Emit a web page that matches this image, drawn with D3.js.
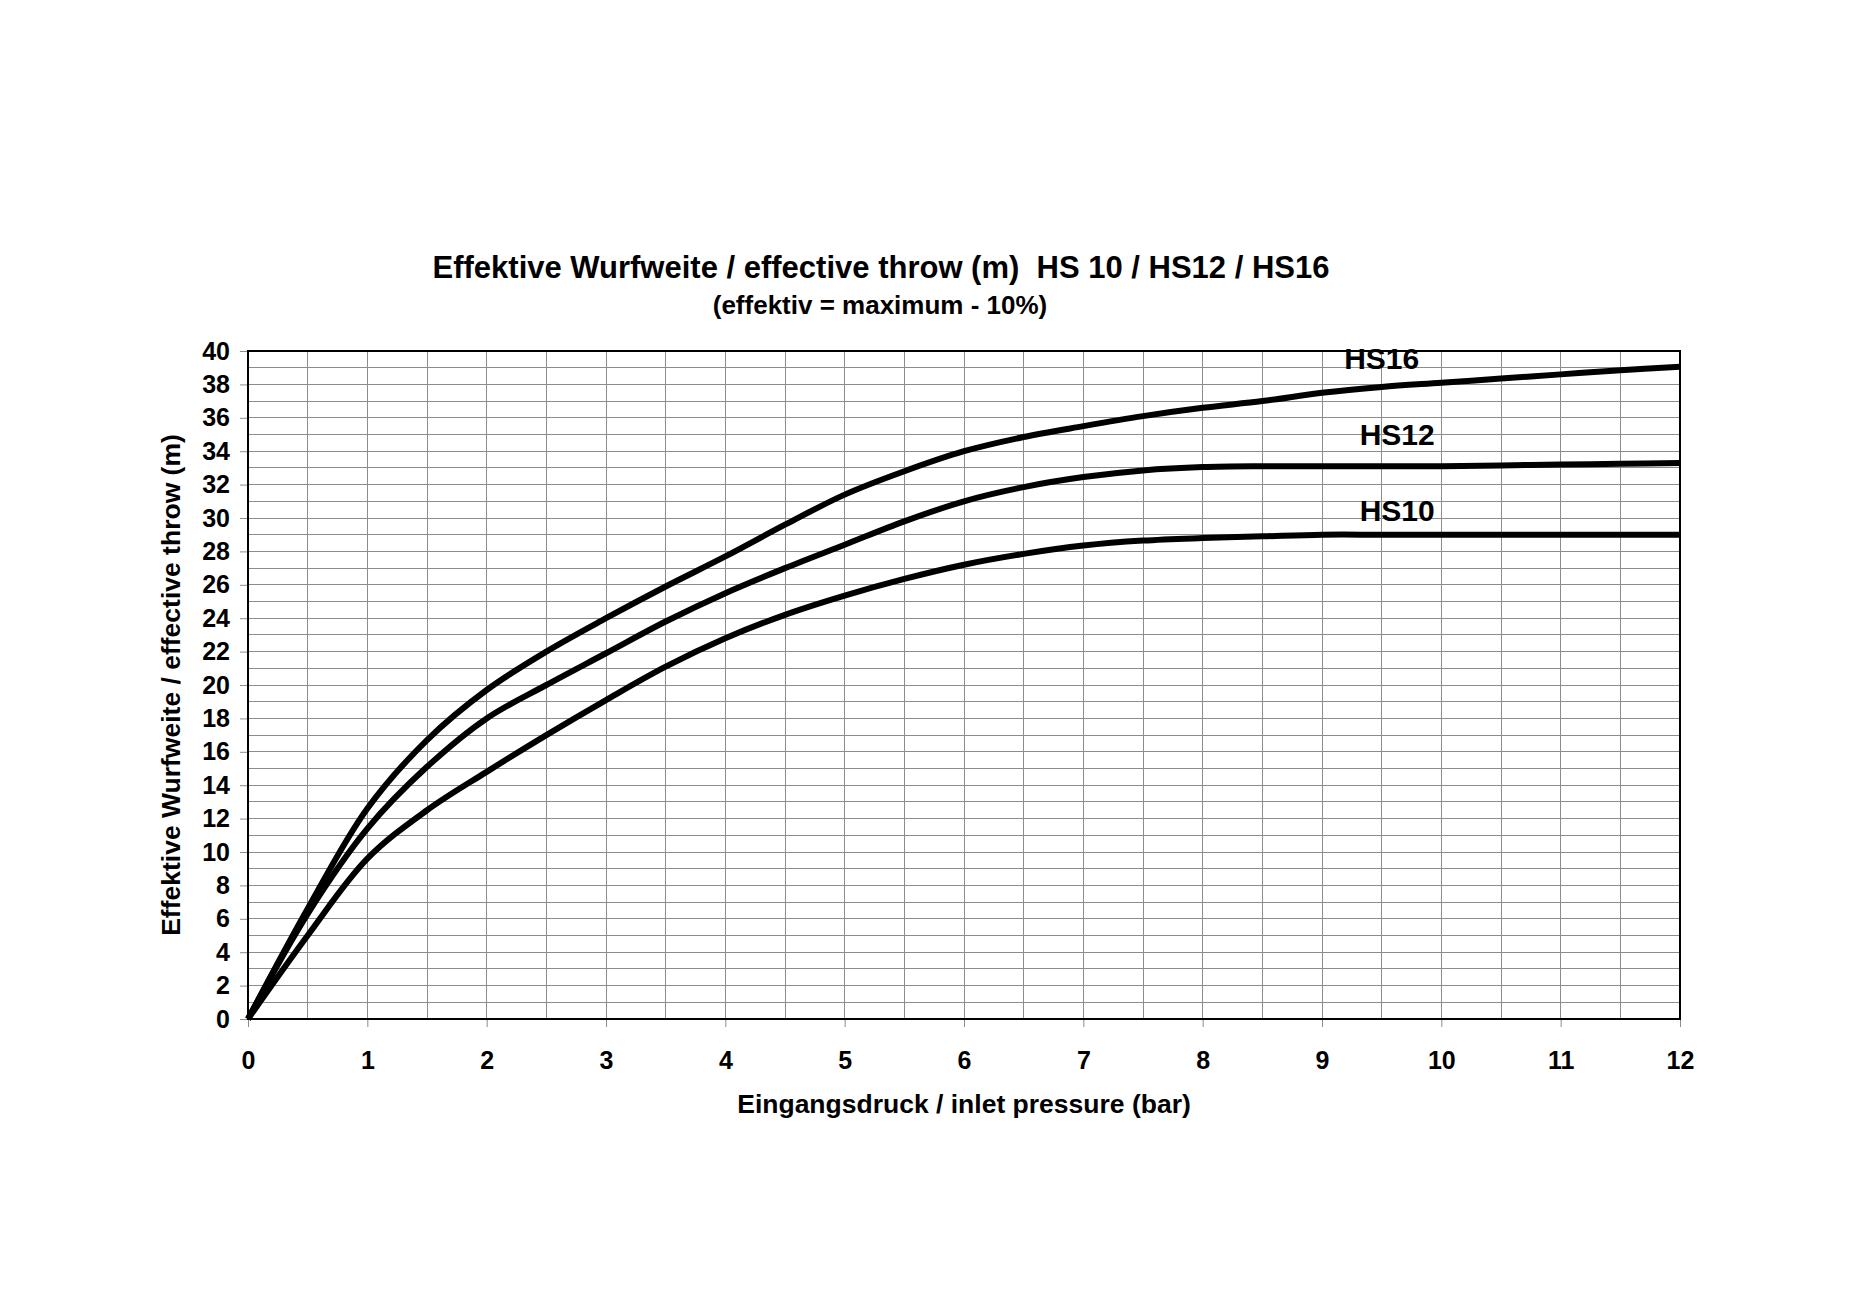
<!DOCTYPE html>
<html>
<head>
<meta charset="utf-8">
<script src="https://cdn.jsdelivr.net/npm/d3@7"></script>
<style>
  body { margin: 0; background: #fff; }
  text { font-family: "Liberation Sans", Arial, sans-serif; font-weight: bold; fill: #000; }
</style>
</head>
<body>
<svg id="chart"></svg>
<script>
let width = 1853;
let height = 1309;

// inlet pressure (bar)
let pressure = [0, 0.5, 1, 1.5, 2, 2.5, 3, 3.5, 4, 4.5, 5, 5.5, 6, 6.5, 7, 7.5, 8, 8.5, 9, 9.5, 10, 10.5, 11, 11.5, 12];

// effective throw (m)
let hs16 = [0, 6.6, 12.6, 16.7, 19.7, 22.0, 24.0, 25.9, 27.7, 29.6, 31.4, 32.8, 34.0, 34.85, 35.5, 36.1, 36.6, 37.0, 37.5, 37.85, 38.1, 38.35, 38.6, 38.85, 39.05];
let hs12 = [0, 6.3, 11.4, 15.1, 18.0, 20.0, 21.9, 23.8, 25.5, 27.0, 28.4, 29.8, 31.0, 31.85, 32.45, 32.85, 33.05, 33.1, 33.1, 33.1, 33.1, 33.15, 33.2, 33.25, 33.3];
let hs10 = [0, 5.0, 9.6, 12.5, 14.8, 17.0, 19.1, 21.1, 22.8, 24.2, 25.35, 26.35, 27.2, 27.85, 28.35, 28.65, 28.8, 28.9, 29.0, 29.0, 29.0, 29.0, 29.0, 29.0, 29.0];

let seriesNames = ['HS16', 'HS12', 'HS10'];
let labelPos = [[9.5, 38.9], [9.63, 34.4], [9.63, 29.8]];

let xTicks = d3.range(0, 13, 1);
let yTicks = d3.range(0, 41, 2);

let margin = { left: 248, right: 1853 - 1680, top: 351, bottom: 1309 - 1019 };

let xScale = d3.scaleLinear()
                .domain([0, 12])
                .range([margin.left, width - margin.right]);

let yScale = d3.scaleLinear()
                .domain([0, 40])
                .range([height - margin.bottom, margin.top]);

let svg = d3.select('#chart')
            .attr('width', width)
            .attr('height', height);

// grid
let grid = svg.append('g').attr('shape-rendering', 'crispEdges');
grid.selectAll('.vgrid')
    .data(d3.range(0.5, 12, 0.5))
    .enter()
    .append('line')
        .attr('x1', d => xScale(d))
        .attr('x2', d => xScale(d))
        .attr('y1', yScale(0))
        .attr('y2', yScale(40))
        .attr('stroke', '#8c8c8c')
        .attr('stroke-width', 1);
grid.selectAll('.hgrid')
    .data(d3.range(1, 40, 1))
    .enter()
    .append('line')
        .attr('x1', xScale(0))
        .attr('x2', xScale(12))
        .attr('y1', d => yScale(d))
        .attr('y2', d => yScale(d))
        .attr('stroke', '#8c8c8c')
        .attr('stroke-width', 1);

// axes
let xAxis = svg.append('g')
    .attr('transform', `translate(0,${yScale(0)})`)
    .call(d3.axisBottom(xScale).tickValues(xTicks).tickSize(8).tickPadding(24));

let yAxis = svg.append('g')
    .attr('transform', `translate(${xScale(0)},0)`)
    .call(d3.axisLeft(yScale).tickValues(yTicks).tickSize(8).tickPadding(10));

[xAxis, yAxis].forEach(a => {
    a.select('.domain').remove();
    a.selectAll('line').attr('stroke', '#8c8c8c');
    a.selectAll('text')
        .style('font-family', '"Liberation Sans", Arial, sans-serif')
        .style('font-weight', 'bold')
        .style('font-size', '25px')
        .attr('fill', '#000');
});

// plot frame
svg.append('rect')
    .attr('x', xScale(0))
    .attr('y', yScale(40))
    .attr('width', xScale(12) - xScale(0))
    .attr('height', yScale(0) - yScale(40))
    .attr('fill', 'none')
    .attr('stroke', '#000')
    .attr('stroke-width', 2);

// curves
let line = d3.line()
    .x((d, i) => xScale(pressure[i]))
    .y(d => yScale(d))
    .curve(d3.curveCatmullRom.alpha(0.5));

svg.selectAll('.curve')
    .data([hs16, hs12, hs10])
    .enter()
    .append('path')
        .attr('d', line)
        .attr('fill', 'none')
        .attr('stroke', '#000')
        .attr('stroke-width', 6)
        .attr('stroke-linejoin', 'round');

svg.selectAll('.lab')
    .data(seriesNames)
    .enter()
    .append('text')
        .text(d => d)
        .attr('x', (d, i) => xScale(labelPos[i][0]))
        .attr('y', (d, i) => yScale(labelPos[i][1]))
        .attr('text-anchor', 'middle')
        .style('font-size', '30px');

// titles
svg.append('text')
    .text('Effektive Wurfweite / effective throw (m)  HS 10 / HS12 / HS16')
    .attr('x', 881)
    .attr('y', 278)
    .attr('text-anchor', 'middle')
    .attr('xml:space', 'preserve')
    .style('white-space', 'pre')
    .style('font-size', '31px');

svg.append('text')
    .text('(effektiv = maximum - 10%)')
    .attr('x', 880)
    .attr('y', 314)
    .attr('text-anchor', 'middle')
    .style('font-size', '26px');

svg.append('text')
    .text('Eingangsdruck / inlet pressure (bar)')
    .attr('x', 964)
    .attr('y', 1113)
    .attr('text-anchor', 'middle')
    .style('font-size', '26.5px');

svg.append('text')
    .text('Effektive Wurfweite / effective throw (m)')
    .attr('transform', 'translate(180,685) rotate(-90)')
    .attr('text-anchor', 'middle')
    .style('font-size', '26.5px');
</script>
</body>
</html>
